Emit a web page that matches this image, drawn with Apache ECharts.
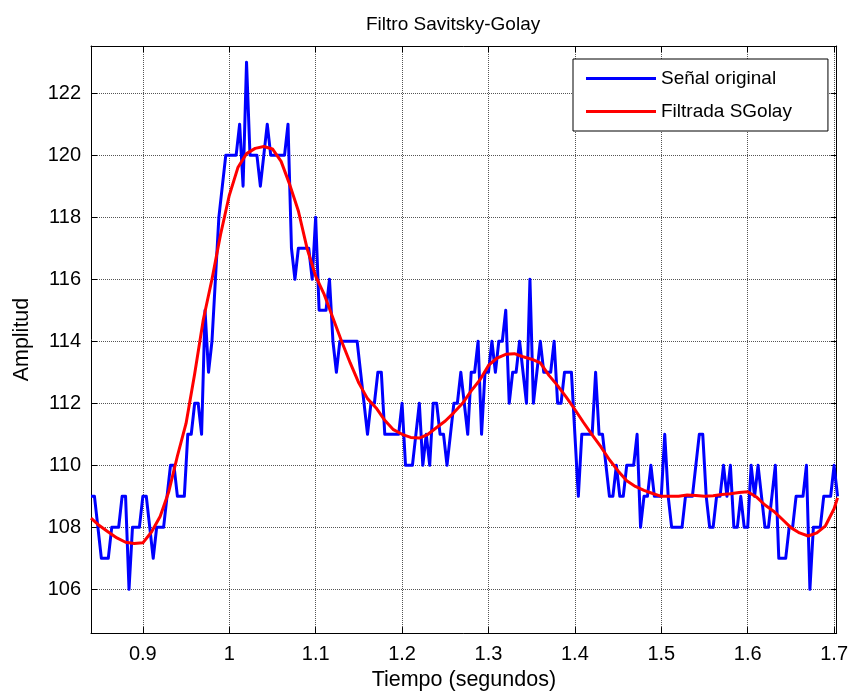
<!DOCTYPE html>
<html>
<head>
<meta charset="utf-8">
<script src="https://cdn.jsdelivr.net/npm/echarts@6/dist/echarts.min.js"></script>
<style>
  html, body { margin: 0; padding: 0; background: #ffffff; }
  #chart { width: 851px; height: 696px; }
</style>
</head>
<body>
<div id="chart"></div>
<script>
// Raw signal, sampled at 250 Hz starting at t = 0.84 s
const sampleStart = 0.84;
const samplePeriod = 0.004;
const originalSignal = [
  109,109,108,107,107,107,108,108,108,109,
  109,106,108,108,108,109,109,108,107,108,
  108,108,109,110,110,109,109,109,111,111,
  112,112,111,115,113,114,116,118,119,120,
  120,120,120,121,119,123,120,120,120,119,
  120,121,120,120,120,120,120,121,117,116,
  117,117,117,117,116,118,115,115,115,116,
  114,113,114,114,114,114,114,114,113,112,
  111,112,112,113,113,111,111,111,111,111,
  112,110,110,110,111,112,110,111,110,112,
  112,111,111,110,111,112,112,113,112,111,
  113,113,114,111,113,113,114,113,114,114,
  115,112,113,113,114,113,112,116,112,113,
  114,113,113,113,114,112,112,113,113,113,
  111,109,111,111,111,111,113,111,111,110,
  109,109,110,109,109,110,110,110,111,108,
  109,109,110,109,109,109,111,109,108,108,
  108,108,109,109,109,110,111,111,109,108,
  108,109,109,110,109,110,108,108,109,108,
  108,110,109,110,109,108,108,109,110,107,
  107,107,108,108,109,109,109,110,106,108,
  108,108,109,109,109,110,109
];

// Savitzky-Golay smoothed output
const filteredTimes = [
  0.84,0.85,0.86,0.87,0.88,0.89,0.90,0.91,0.92,0.93,
  0.94,0.95,0.96,0.97,0.98,0.99,1.00,1.01,1.02,1.03,
  1.04,1.05,1.06,1.07,1.08,1.09,1.10,1.11,1.12,1.13,
  1.14,1.15,1.16,1.17,1.18,1.19,1.20,1.21,1.22,1.23,
  1.24,1.25,1.26,1.27,1.28,1.29,1.30,1.31,1.32,1.33,
  1.34,1.35,1.36,1.37,1.38,1.39,1.40,1.41,1.42,1.43,
  1.44,1.45,1.46,1.47,1.48,1.49,1.50,1.51,1.52,1.53,
  1.54,1.55,1.56,1.57,1.58,1.59,1.60,1.61,1.62,1.63,
  1.64,1.65,1.66,1.67,1.68,1.69,1.70,1.704
];
const filteredSignal = [
  108.3,108.05,107.85,107.66,107.52,107.48,107.5,107.85,108.35,109.15,
  110.3,111.35,112.95,114.7,116.0,117.45,118.7,119.6,120.05,120.22,
  120.28,120.2,119.8,119.05,118.2,117.0,116.1,115.5,114.75,114.0,
  113.3,112.65,112.15,111.85,111.45,111.15,111.0,110.9,110.88,111.0,
  111.22,111.43,111.7,112.0,112.4,112.75,113.22,113.46,113.58,113.6,
  113.5,113.42,113.3,112.9,112.57,112.2,111.8,111.38,110.98,110.6,
  110.18,109.82,109.5,109.32,109.19,109.09,109.0,109.0,109.0,109.04,
  109.03,109.0,109.02,109.06,109.08,109.12,109.15,108.98,108.72,108.52,
  108.26,107.99,107.82,107.72,107.82,108.05,108.6,108.95
];

// Axis ranges and ticks
const xRange = [0.84, 1.703];
const yRange = [104.59, 123.52];
const xTicks = [0.9, 1.0, 1.1, 1.2, 1.3, 1.4, 1.5, 1.6, 1.7];
const xTickLabels = ['0.9', '1', '1.1', '1.2', '1.3', '1.4', '1.5', '1.6', '1.7'];
const yTicks = [106, 108, 110, 112, 114, 116, 118, 120, 122];
const yTickLabels = ['106', '108', '110', '112', '114', '116', '118', '120', '122'];

const seriesNames = ['Señal original', 'Filtrada SGolay'];
const titleText = 'Filtro Savitsky-Golay';
const xName = 'Tiempo (segundos)';
const yName = 'Amplitud';

const FONT = '"Liberation Sans", Arial, Helvetica, sans-serif';

function labelFor(ticks, labels) {
  return function (v) {
    for (let k = 0; k < ticks.length; k++) {
      if (Math.abs(ticks[k] - v) < 1e-6) return labels[k];
    }
    return '';
  };
}

const rawPoints = originalSignal.map((v, i) => [+(sampleStart + i * samplePeriod).toFixed(3), v]);
const smoothPoints = filteredTimes.map((t, i) => [t, filteredSignal[i]]);

const axisLineStyle = { show: true, onZero: false, lineStyle: { color: '#000', width: 1 } };
const gridLineStyle = { show: true, lineStyle: { color: '#555', width: 1, type: 'dotted' } };

const chart = echarts.init(document.getElementById('chart'), null, { renderer: 'canvas' });

chart.setOption({
  animation: false,
  backgroundColor: '#ffffff',
  title: {
    text: titleText,
    left: 361,
    top: 10,
    textStyle: { fontFamily: FONT, fontSize: 19, fontWeight: 'normal', color: '#000' }
  },
  legend: {
    orient: 'vertical',
    left: 573,
    top: 59,
    padding: [10, 36, 10, 13],
    itemGap: 14,
    itemWidth: 70,
    itemHeight: 3,
    icon: 'rect',
    backgroundColor: '#ffffff',
    borderColor: '#000',
    borderWidth: 1,
    textStyle: { fontFamily: FONT, fontSize: 19, color: '#000' },
    data: seriesNames
  },
  grid: { left: 91, right: 14, top: 46, bottom: 60, containLabel: false },
  xAxis: [
    {
      type: 'value',
      position: 'bottom',
      min: xRange[0],
      max: xRange[1],
      splitNumber: 9,
      name: xName,
      nameLocation: 'middle',
      nameGap: 35,
      nameTextStyle: { fontFamily: FONT, fontSize: 21.5, color: '#000' },
      axisLine: axisLineStyle,
      axisTick: { show: true, inside: true, length: 6, customValues: xTicks, lineStyle: { color: '#000' } },
      axisLabel: {
        customValues: xTicks,
        formatter: labelFor(xTicks, xTickLabels),
        margin: 11,
        fontFamily: FONT, fontSize: 20, color: '#000'
      },
      splitLine: gridLineStyle
    },
    {
      type: 'value',
      position: 'top',
      min: xRange[0],
      max: xRange[1],
      splitNumber: 9,
      axisLine: axisLineStyle,
      axisTick: { show: true, inside: true, length: 6, customValues: xTicks, lineStyle: { color: '#000' } },
      axisLabel: { show: false },
      splitLine: { show: false }
    }
  ],
  yAxis: [
    {
      type: 'value',
      position: 'left',
      min: yRange[0],
      max: yRange[1],
      splitNumber: 10,
      name: yName,
      nameLocation: 'middle',
      nameGap: 58,
      nameTextStyle: { fontFamily: FONT, fontSize: 21.5, color: '#000' },
      axisLine: axisLineStyle,
      axisTick: { show: true, inside: true, length: 6, customValues: yTicks, lineStyle: { color: '#000' } },
      axisLabel: {
        customValues: yTicks,
        formatter: labelFor(yTicks, yTickLabels),
        margin: 10,
        fontFamily: FONT, fontSize: 20, color: '#000'
      },
      splitLine: gridLineStyle
    },
    {
      type: 'value',
      position: 'right',
      min: yRange[0],
      max: yRange[1],
      splitNumber: 10,
      axisLine: axisLineStyle,
      axisTick: { show: true, inside: true, length: 6, customValues: yTicks, lineStyle: { color: '#000' } },
      axisLabel: { show: false },
      splitLine: { show: false }
    }
  ],
  series: [
    {
      name: seriesNames[0],
      type: 'line',
      xAxisIndex: 0,
      yAxisIndex: 0,
      data: rawPoints,
      symbol: 'none',
      showSymbol: false,
      clip: true,
      lineStyle: { color: '#0000ff', width: 3, join: 'round' },
      itemStyle: { color: '#0000ff' },
      z: 2
    },
    {
      name: seriesNames[1],
      type: 'line',
      xAxisIndex: 0,
      yAxisIndex: 0,
      data: smoothPoints,
      symbol: 'none',
      showSymbol: false,
      clip: true,
      lineStyle: { color: '#ff0000', width: 3, join: 'round' },
      itemStyle: { color: '#ff0000' },
      z: 3
    }
  ]
});
</script>
</body>
</html>
